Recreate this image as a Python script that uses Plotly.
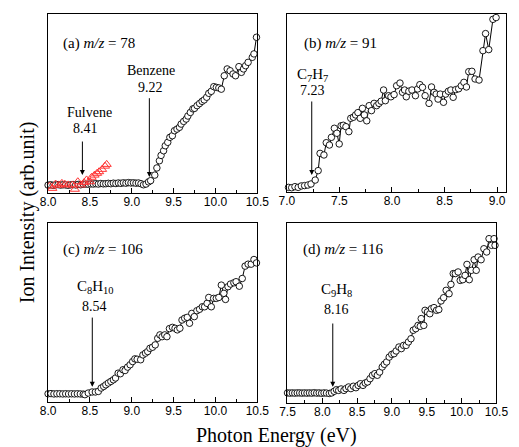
import plotly.graph_objects as go

# ---------------- data (fractions of panel height, arb. units) ----------------
# (a) m/z = 78  benzene (circles) + fulvene (red triangles)
xa = [8.00, 8.03, 8.06, 8.09, 8.12, 8.15, 8.18, 8.21, 8.24, 8.27, 8.30, 8.33, 8.36, 8.39,
      8.42, 8.45, 8.48, 8.51, 8.54, 8.57, 8.60, 8.63, 8.66, 8.69, 8.72, 8.75, 8.78, 8.81,
      8.84, 8.87, 8.90, 8.93, 8.96, 8.99, 9.02, 9.05, 9.08, 9.11, 9.14, 9.17, 9.20,
      9.225, 9.275, 9.30, 9.33, 9.35, 9.38, 9.40, 9.43, 9.455, 9.485, 9.51, 9.54, 9.57,
      9.59, 9.62, 9.65, 9.67, 9.70, 9.73, 9.75, 9.78, 9.81, 9.84, 9.865, 9.895, 9.92,
      9.95, 9.98, 10.01, 10.04, 10.07, 10.105, 10.14, 10.175, 10.21, 10.24, 10.28, 10.31,
      10.335, 10.36, 10.39, 10.44, 10.46, 10.49]
ya = [0.044, 0.046, 0.043, 0.045, 0.047, 0.044, 0.046, 0.045, 0.043, 0.046, 0.047, 0.045,
      0.048, 0.046, 0.049, 0.050, 0.049, 0.051, 0.050, 0.052, 0.050, 0.053, 0.051, 0.052,
      0.054, 0.052, 0.055, 0.053, 0.056, 0.054, 0.057, 0.055, 0.058, 0.056, 0.057, 0.055,
      0.056, 0.052, 0.046, 0.050, 0.062,
      0.069, 0.100, 0.140, 0.180, 0.210, 0.236, 0.264, 0.283, 0.311, 0.320, 0.348, 0.357,
      0.367, 0.385, 0.400, 0.413, 0.430, 0.450, 0.470, 0.473, 0.488, 0.500, 0.512, 0.520,
      0.535, 0.557, 0.568, 0.594, 0.590, 0.587, 0.580, 0.655, 0.693, 0.683, 0.665, 0.655,
      0.706, 0.674, 0.693, 0.711, 0.730, 0.758, 0.777, 0.870]
xa_f = [8.02, 8.05, 8.09, 8.13, 8.165, 8.20, 8.24, 8.29, 8.32, 8.355, 8.39, 8.43, 8.46,
        8.50, 8.52, 8.555, 8.585, 8.61, 8.645, 8.68, 8.70]
ya_f = [0.039, 0.026, 0.050, 0.043, 0.054, 0.049, 0.045, 0.045, 0.021, 0.063, 0.045, 0.058,
        0.073, 0.063, 0.088, 0.100, 0.110, 0.119, 0.132, 0.150, 0.160]

# (b) m/z = 91
xb = [7.016, 7.046, 7.077, 7.108, 7.138, 7.169, 7.20, 7.23, 7.27, 7.298, 7.316, 7.353,
      7.375, 7.405, 7.424, 7.452, 7.476, 7.498, 7.516, 7.537, 7.562, 7.59, 7.608, 7.633,
      7.654, 7.676, 7.698, 7.719, 7.737, 7.76, 7.783, 7.805, 7.83, 7.854, 7.876, 7.897,
      7.92, 7.937, 7.968, 7.99, 8.02, 8.044, 8.076, 8.10, 8.12, 8.136, 8.16, 8.19, 8.223,
      8.244, 8.265, 8.29, 8.315, 8.352, 8.376, 8.40, 8.42, 8.438, 8.459, 8.49, 8.51, 8.536,
      8.56, 8.582, 8.606, 8.634, 8.659, 8.684, 8.708, 8.73, 8.76, 8.79, 8.828, 8.865, 8.89,
      8.92, 8.96, 8.99]
yb = [0.026, 0.024, 0.030, 0.026, 0.034, 0.036, 0.039, 0.045, 0.067, 0.120, 0.217, 0.208,
      0.277, 0.264, 0.307, 0.358, 0.330, 0.270, 0.372, 0.375, 0.367, 0.339, 0.414, 0.420,
      0.433, 0.446, 0.414, 0.470, 0.433, 0.400, 0.485, 0.457, 0.498, 0.485, 0.498, 0.510,
      0.573, 0.513, 0.541, 0.535, 0.547, 0.597, 0.612, 0.560, 0.573, 0.535, 0.566, 0.573,
      0.541, 0.579, 0.603, 0.588, 0.541, 0.498, 0.590, 0.560, 0.550, 0.522, 0.550, 0.504,
      0.550, 0.566, 0.573, 0.532, 0.575, 0.580, 0.597, 0.616, 0.590, 0.676, 0.678, 0.635,
      0.629, 0.794, 0.890, 0.800, 0.970, 0.980]

# (c) m/z = 106
xc = [8.00, 8.035, 8.07, 8.105, 8.14, 8.175, 8.21, 8.245, 8.28, 8.315, 8.35, 8.385, 8.42,
      8.44, 8.48, 8.526, 8.565, 8.60, 8.634, 8.664, 8.69, 8.72, 8.75, 8.78, 8.806, 8.837,
      8.864, 8.895, 8.92, 8.95, 8.98, 9.01, 9.037, 9.064, 9.106, 9.133, 9.164, 9.19, 9.217,
      9.248, 9.28, 9.31, 9.336, 9.363, 9.394, 9.42, 9.45, 9.486, 9.517, 9.544, 9.575, 9.60,
      9.632, 9.663, 9.69, 9.717, 9.747, 9.778, 9.81, 9.843, 9.87, 9.90, 9.92, 9.95, 9.978,
      10.01, 10.04, 10.07, 10.10, 10.12, 10.15, 10.18, 10.22, 10.246, 10.285, 10.32,
      10.354, 10.39, 10.427, 10.46, 10.49]
yc = [0.046, 0.047, 0.045, 0.046, 0.046, 0.045, 0.046, 0.045, 0.046, 0.045, 0.046, 0.045,
      0.044, 0.041, 0.050, 0.056, 0.056, 0.059, 0.078, 0.087, 0.096, 0.106, 0.115, 0.124,
      0.134, 0.161, 0.158, 0.180, 0.176, 0.195, 0.208, 0.226, 0.241, 0.239, 0.236, 0.263,
      0.273, 0.282, 0.300, 0.306, 0.319, 0.356, 0.375, 0.365, 0.375, 0.365, 0.410, 0.417,
      0.412, 0.403, 0.412, 0.458, 0.468, 0.473, 0.440, 0.495, 0.477, 0.510, 0.518, 0.532,
      0.532, 0.551, 0.584, 0.532, 0.579, 0.579, 0.584, 0.653, 0.607, 0.573, 0.644, 0.659,
      0.666, 0.672, 0.647, 0.690, 0.759, 0.770, 0.770, 0.796, 0.777]

# (d) m/z = 116
xd = [7.50, 7.535, 7.57, 7.605, 7.64, 7.675, 7.71, 7.745, 7.78, 7.815, 7.85, 7.885, 7.92,
      7.955, 7.99, 8.025, 8.06, 8.10, 8.134, 8.17, 8.203, 8.235, 8.27, 8.31, 8.34, 8.377,
      8.41, 8.446, 8.483, 8.515, 8.547, 8.584, 8.616, 8.65, 8.685, 8.72, 8.754, 8.79, 8.823,
      8.86, 8.89, 8.924, 8.96, 8.997, 9.03, 9.06, 9.10, 9.135, 9.167, 9.204, 9.236, 9.273,
      9.305, 9.342, 9.374, 9.406, 9.42, 9.457, 9.475, 9.51, 9.544, 9.567, 9.604, 9.64,
      9.673, 9.705, 9.742, 9.778, 9.82, 9.847, 9.88, 9.91, 9.95, 9.98, 10.017, 10.05,
      10.077, 10.11, 10.14, 10.18, 10.21, 10.237, 10.28, 10.32, 10.36, 10.394, 10.43,
      10.466, 10.48]
yd = [0.056, 0.055, 0.056, 0.055, 0.056, 0.056, 0.055, 0.056, 0.055, 0.056, 0.055, 0.057,
      0.055, 0.056, 0.054, 0.056, 0.055, 0.053, 0.056, 0.065, 0.074, 0.070, 0.078, 0.070,
      0.080, 0.089, 0.080, 0.093, 0.085, 0.098, 0.107, 0.098, 0.111, 0.117, 0.135, 0.154,
      0.163, 0.154, 0.172, 0.200, 0.215, 0.228, 0.255, 0.270, 0.274, 0.289, 0.311, 0.302,
      0.320, 0.320, 0.339, 0.357, 0.404, 0.413, 0.431, 0.426, 0.469, 0.431, 0.515, 0.506,
      0.496, 0.524, 0.530, 0.515, 0.519, 0.567, 0.585, 0.626, 0.607, 0.659, 0.719, 0.719,
      0.728, 0.681, 0.685, 0.709, 0.770, 0.685, 0.737, 0.796, 0.737, 0.811, 0.796, 0.857,
      0.839, 0.913, 0.876, 0.913, 0.876]

# ---------------- figure ----------------
W, H = 519, 447

def dom_x(l, r):
    return [l / W, r / W]

def dom_y(t, b):
    return [1 - b / H, 1 - t / H]

panels = [
    dict(x=xa, y=ya, xr=[8.0, 10.5], dx=dom_x(41.7, 259.3), dy=dom_y(14, 193)),
    dict(x=xb, y=yb, xr=[7.0, 9.08], dx=dom_x(290, 517.5), dy=dom_y(14, 192)),
    dict(x=xc, y=yc, xr=[8.0, 10.5], dx=dom_x(41.7, 259.3), dy=dom_y(223, 402)),
    dict(x=xd, y=yd, xr=[7.5, 10.5], dx=dom_x(290.7, 508), dy=dom_y(223, 403)),
]

fig = go.Figure()
serif = "Liberation Serif"
sans = "Liberation Sans"

for i, p in enumerate(panels):
    n = "" if i == 0 else str(i + 1)
    fig.add_trace(go.Scatter(
        x=p["x"], y=p["y"], mode="lines+markers", xaxis="x" + n, yaxis="y" + n,
        line=dict(color="black", width=1),
        marker=dict(symbol="circle", size=6.5, color="white",
                    line=dict(color="black", width=0.9)),
        showlegend=False, cliponaxis=False))
    fig.layout["xaxis" + n] = dict(
        domain=p["dx"], range=p["xr"], anchor="y" + n, showgrid=False, zeroline=False,
        showline=True, mirror=True, linecolor="black", linewidth=1.2,
        ticks="inside", ticklen=5, tickwidth=1, tickcolor="black", dtick=0.5,
        tick0=7.0, tickformat=".1f", ticklabelstandoff=-3,
        minor=dict(ticks="inside", ticklen=3, dtick=0.25, tickcolor="black", showgrid=False),
        tickfont=dict(family=sans, size=12, color="black"))
    fig.layout["yaxis" + n] = dict(
        domain=p["dy"], range=[0, 1], anchor="x" + n, showgrid=False, zeroline=False,
        showline=True, mirror=True, linecolor="black", linewidth=1.2,
        showticklabels=False, ticks="")

fig.add_trace(go.Scatter(
    x=xa_f, y=ya_f, mode="markers", xaxis="x", yaxis="y",
    marker=dict(symbol="triangle-up", size=8, color="rgba(255,255,255,0)",
                line=dict(width=1, color="#ff3333")),
    showlegend=False))

ann = []

def text(ax, x, y, t, size=14, xanchor="center"):
    n = "" if ax == 1 else str(ax)
    ann.append(dict(x=x, y=y, xref="x" + n, yref="y" + n, text=t, showarrow=False,
                    xanchor=xanchor, yanchor="middle",
                    font=dict(family=serif, size=size, color="black")))

def arrow(ax, x, y0, y1):
    n = "" if ax == 1 else str(ax)
    ann.append(dict(x=x, y=y1, ax=x, ay=y0, xref="x" + n, yref="y" + n,
                    axref="x" + n, ayref="y" + n, text="", showarrow=True,
                    arrowhead=2, arrowsize=1, arrowwidth=1, arrowcolor="black",
                    standoff=0, startstandoff=0))

# panel labels
text(1, 8.15, 0.836, "(a) <i>m/z</i> = 78", 15, "left")
text(2, 7.14, 0.835, "(b) <i>m/z</i> = 91", 15, "left")
text(3, 8.15, 0.853, "(c) <i>m/z</i> = 106", 15, "left")
text(4, 7.70, 0.854, "(d) <i>m/z</i> = 116", 15, "left")

# (a)
text(1, 8.50, 0.447, "Fulvene")
text(1, 8.45, 0.363, "8.41")
arrow(1, 8.41, 0.296, 0.10)
text(1, 9.225, 0.683, "Benzene")
text(1, 9.225, 0.59, "9.22")
arrow(1, 9.21, 0.538, 0.09)
# (b)
text(2, 7.245, 0.657, "C<sub>7</sub>H<sub>7</sub>", 15)
text(2, 7.245, 0.569, "7.23")
arrow(2, 7.237, 0.517, 0.096)
# (c)
text(3, 8.57, 0.644, "C<sub>8</sub>H<sub>10</sub>", 15)
text(3, 8.56, 0.532, "8.54")
arrow(3, 8.528, 0.48, 0.085)
# (d)
text(4, 8.20, 0.628, "C<sub>9</sub>H<sub>8</sub>", 15)
text(4, 8.20, 0.52, "8.16")
arrow(4, 8.15, 0.45, 0.09)

# axis titles
ann.append(dict(x=279 / W, y=1 - 435 / H, xref="paper", yref="paper",
                text="Photon Energy (eV)", showarrow=False, xanchor="center",
                yanchor="middle", font=dict(family=serif, size=20, color="black")))
ann.append(dict(x=20 / W, y=1 - 212 / H, xref="paper", yref="paper",
                text="Ion Intensity (arb.unit)", showarrow=False, textangle=-90,
                xanchor="center", yanchor="middle",
                font=dict(family=serif, size=20, color="black")))

fig.update_layout(
    width=W, height=H, margin=dict(l=0, r=0, t=0, b=0),
    paper_bgcolor="white", plot_bgcolor="white", annotations=ann)

fig.write_html(
    "out.html",
    config={"displayModeBar": False},
    post_script="document.body.style.margin='0';document.body.style.overflow='hidden';")
